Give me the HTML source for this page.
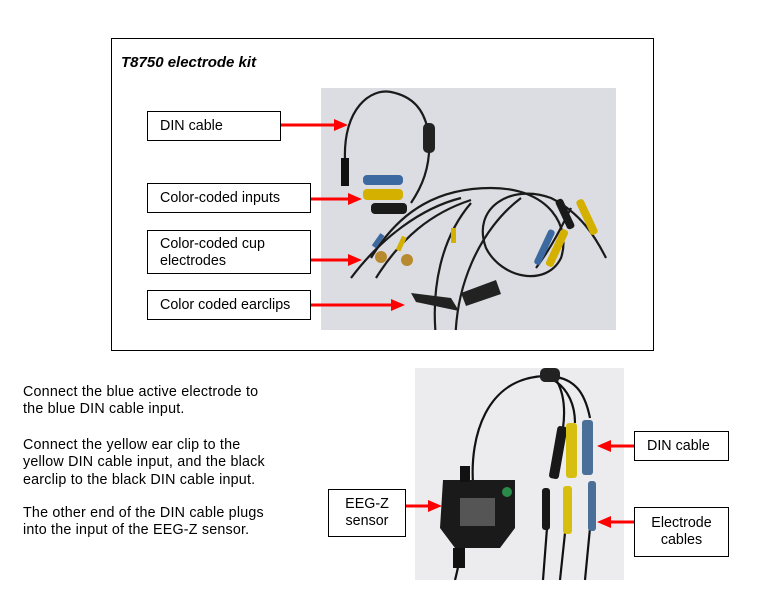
<!DOCTYPE html>
<html><head><style>
body{margin:0;width:764px;height:598px;background:#fff;position:relative;font-family:"Liberation Sans",Arial,sans-serif;overflow:hidden}
.a{position:absolute}
.box{position:absolute;border:1px solid #000;background:#fff;font-size:14.3px;box-sizing:border-box;padding-left:12px;color:#000}
.t{position:absolute;left:23px;font-size:14.3px;letter-spacing:0.2px;line-height:17.3px;color:#000;white-space:nowrap}
</style></head><body>
<div class="a" style="left:111px;top:38px;width:541px;height:311px;border:1px solid #000"></div>
<div class="a" style="left:121px;top:54px;font-size:15px;font-weight:bold;font-style:italic">T8750 electrode kit</div>

<svg class="a" style="left:321px;top:88px" width="295" height="242" viewBox="0 0 295 242">
<rect width="295" height="242" fill="#dcdde2"/>
<g fill="none" stroke="#1a1a1a" stroke-width="2.2">
<path d="M24 72 C22 20 50 0 70 4 C90 8 105 20 108 50 C110 80 100 100 90 115"/>
<path d="M50 170 C80 120 120 100 170 100 C230 100 250 140 240 170 C225 200 180 190 165 160 C150 120 190 95 230 110 C260 125 275 150 285 170"/>
<path d="M30 190 C60 150 100 120 140 110"/><path d="M55 190 C80 150 110 125 150 112"/>
<path d="M115 250 C110 200 120 150 150 115"/><path d="M135 270 C130 200 160 140 200 110"/>
<path d="M215 180 C230 160 240 140 250 120"/>
</g>
<rect x="102" y="35" width="12" height="30" rx="5" fill="#222"/>
<rect x="20" y="70" width="8" height="28" fill="#111"/>
<rect x="42" y="87" width="40" height="10" rx="4" fill="#3c6aa0"/>
<rect x="42" y="101" width="40" height="11" rx="4" fill="#d4b000"/>
<rect x="50" y="115" width="36" height="11" rx="4" fill="#1a1a1a"/>
<rect x="262" y="110" width="8" height="38" rx="3" fill="#d4b000" transform="rotate(-25 266 129)"/>
<rect x="240" y="110" width="8" height="32" rx="3" fill="#1a1a1a" transform="rotate(-25 244 126)"/>
<rect x="220" y="140" width="7" height="38" rx="3" fill="#3c6aa0" transform="rotate(25 223 159)"/>
<rect x="232" y="140" width="8" height="40" rx="3" fill="#d4b000" transform="rotate(25 236 160)"/>
<rect x="55" y="145" width="5" height="15" fill="#3c6aa0" transform="rotate(35 57 152)"/>
<rect x="78" y="148" width="5" height="15" fill="#d4b000" transform="rotate(25 80 155)"/>
<rect x="130" y="140" width="5" height="15" fill="#d4b000"/>
<circle cx="60" cy="169" r="6" fill="#b88a30"/><circle cx="86" cy="172" r="6" fill="#b88a30"/>
<path d="M90 205 L130 210 L138 223 L95 214Z" fill="#222"/>
<path d="M140 205 L175 192 L180 206 L145 218Z" fill="#222"/>
</svg>

<svg class="a" style="left:415px;top:368px" width="209" height="212" viewBox="0 0 209 212">
<rect width="209" height="212" fill="#ecebee"/>
<g fill="none" stroke="#111" stroke-width="2.2">
<path d="M58 115 C55 70 70 10 130 8 C160 8 170 25 175 50"/>
<path d="M135 10 C155 20 160 40 160 55"/><path d="M140 10 C150 25 150 45 148 60"/>
<path d="M48 175 C45 190 42 205 40 212"/>
<path d="M132 160 L128 212"/><path d="M150 165 L145 212"/><path d="M175 160 L170 212"/>
</g>
<rect x="125" y="0" width="20" height="14" rx="5" fill="#222"/>
<rect x="138" y="58" width="10" height="53" rx="3" fill="#181818" transform="rotate(10 143 85)"/>
<rect x="151" y="55" width="11" height="55" rx="3" fill="#d6bf10"/>
<rect x="167" y="52" width="11" height="55" rx="3" fill="#4a6f98"/>
<rect x="127" y="120" width="8" height="42" rx="3" fill="#181818"/>
<rect x="148" y="118" width="9" height="48" rx="3" fill="#d6bf10"/>
<rect x="173" y="113" width="8" height="50" rx="3" fill="#4a6f98"/>
<path d="M28 112 L100 112 L100 160 L85 180 L40 180 L25 160Z" fill="#1a1a1a"/>
<rect x="45" y="130" width="35" height="28" fill="#555"/>
<circle cx="92" cy="124" r="5" fill="#2a8a4a"/>
<rect x="45" y="98" width="10" height="16" fill="#111"/>
<rect x="38" y="180" width="12" height="20" fill="#111"/>
</svg>

<div class="box" style="left:147px;top:111px;width:134px;height:30px;line-height:28px">DIN cable</div>
<div class="box" style="left:147px;top:183px;width:164px;height:30px;line-height:28px">Color-coded inputs</div>
<div class="box" style="left:147px;top:230px;width:164px;height:44px;line-height:17px;padding-top:5px">Color-coded cup<br>electrodes</div>
<div class="box" style="left:147px;top:290px;width:164px;height:30px;line-height:28px">Color coded earclips</div>

<div class="box" style="left:634px;top:431px;width:95px;height:30px;line-height:28px">DIN cable</div>
<div class="box" style="left:634px;top:507px;width:95px;height:50px;line-height:17px;padding-top:7px;padding-left:0;text-align:center">Electrode<br>cables</div>
<div class="box" style="left:328px;top:489px;width:78px;height:48px;line-height:17px;padding-top:6px;padding-left:0;text-align:center">EEG-Z<br>sensor</div>

<svg class="a" style="left:0;top:0" width="764" height="598">
<g stroke="#f00" stroke-width="3">
<line x1="281" y1="125" x2="336" y2="125"/>
<line x1="311" y1="199" x2="350" y2="199"/>
<line x1="311" y1="260" x2="350" y2="260"/>
<line x1="311" y1="305" x2="393" y2="305"/>
<line x1="634" y1="446" x2="609" y2="446"/>
<line x1="634" y1="522" x2="609" y2="522"/>
<line x1="406" y1="506" x2="430" y2="506"/>
</g>
<g fill="#f00">
<path d="M334 119L348 125L334 131Z"/>
<path d="M348 193L362 199L348 205Z"/>
<path d="M348 254L362 260L348 266Z"/>
<path d="M391 299L405 305L391 311Z"/>
<path d="M611 440L597 446L611 452Z"/>
<path d="M611 516L597 522L611 528Z"/>
<path d="M428 500L442 506L428 512Z"/>
</g></svg>

<div class="t" style="top:384px">Connect the blue active electrode to<br>the blue DIN cable input.</div>
<div class="t" style="top:437px">Connect the yellow ear clip to the<br>yellow DIN cable input, and the black<br>earclip to the black DIN cable input.</div>
<div class="t" style="top:505px">The other end of the DIN cable plugs<br>into the input of the EEG-Z sensor.</div>
</body></html>
